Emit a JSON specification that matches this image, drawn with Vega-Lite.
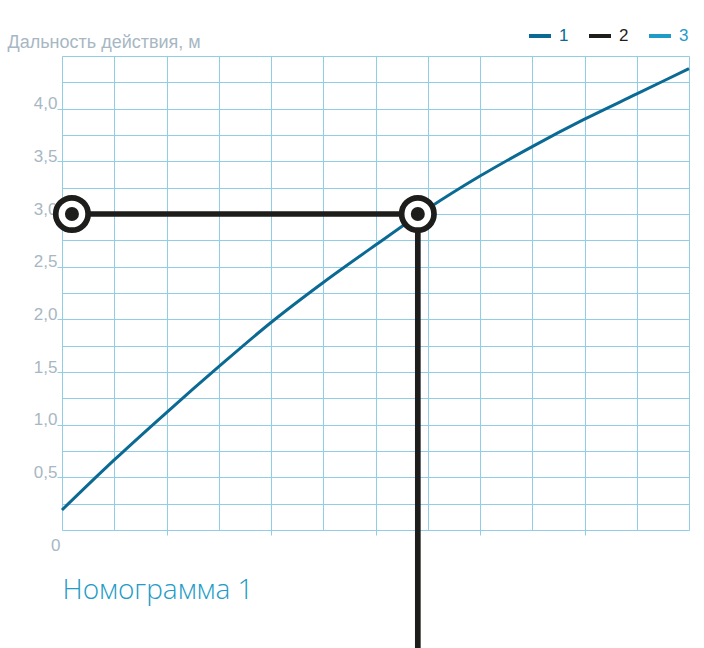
{
  "$schema": "https://vega.github.io/schema/vega-lite/v6.json",
  "autosize": "none",
  "width": 627,
  "height": 474,
  "padding": {"left": 62, "top": 56, "right": 15, "bottom": 118},
  "background": "white",
  "datasets": {
    "curve": [
      {"x": 0, "y": 0.19, "series": "1"},
      {"x": 1, "y": 0.665, "series": "1"},
      {"x": 2, "y": 1.115, "series": "1"},
      {"x": 3, "y": 1.55, "series": "1"},
      {"x": 4, "y": 1.97, "series": "1"},
      {"x": 5, "y": 2.35, "series": "1"},
      {"x": 6, "y": 2.705, "series": "1"},
      {"x": 7, "y": 3.05, "series": "1"},
      {"x": 8, "y": 3.36, "series": "1"},
      {"x": 9, "y": 3.64, "series": "1"},
      {"x": 10, "y": 3.9, "series": "1"},
      {"x": 11, "y": 4.14, "series": "1"},
      {"x": 12, "y": 4.38, "series": "1"}
    ],
    "guide": [
      {"x": 0.19, "y": 3.0, "series": "2", "ord": 1},
      {"x": 6.81, "y": 3.0, "series": "2", "ord": 2},
      {"x": 6.81, "y": -1.4, "series": "2", "ord": 3}
    ],
    "points": [
      {"x": 0.19, "y": 3.0},
      {"x": 6.81, "y": 3.0}
    ]
  },
  "encoding": {
    "x": {
      "field": "x",
      "type": "quantitative",
      "scale": {"domain": [0, 12], "nice": false},
      "axis": {
        "title": "Номограмма 1",
        "titleAnchor": "start",
        "titleAlign": "left",
        "titleBaseline": "alphabetic",
        "titleX": 0,
        "titleY": 68,
        "titleFont": "Open Sans",
        "titleFontSize": 28,
        "titleFontWeight": 300,
        "titleColor": "#229bc6",
        "domain": false,
        "labels": false,
        "values": [0, 1, 2, 3, 4, 5, 6, 7, 8, 9, 10, 11, 12],
        "grid": true,
        "gridColor": "#92cde6",
        "gridOpacity": 1,
        "tickColor": "#92cde6",
        "tickSize": 5,
        "tickOpacity": {"condition": {"test": "datum.value % 2 == 0 && datum.value > 0 && datum.value < 12", "value": 1}, "value": 0}
      }
    },
    "y": {
      "field": "y",
      "type": "quantitative",
      "scale": {"domain": [0, 4.5], "nice": false},
      "axis": {
        "title": "Дальность действия, м",
        "titleAngle": 0,
        "titleAlign": "left",
        "titleBaseline": "alphabetic",
        "titleX": -55,
        "titleY": -9,
        "titleFont": "Liberation Sans",
        "titleFontSize": 18,
        "titleFontWeight": "normal",
        "titleColor": "#a7b7c3",
        "domain": false,
        "values": [0, 0.25, 0.5, 0.75, 1, 1.25, 1.5, 1.75, 2, 2.25, 2.5, 2.75, 3, 3.25, 3.5, 3.75, 4, 4.25, 4.5],
        "grid": true,
        "gridColor": "#92cde6",
        "gridOpacity": 1,
        "tickColor": "#92cde6",
        "tickSize": 5,
        "tickOpacity": {"condition": {"test": "datum.value % 0.5 == 0 && datum.value > 0 && datum.value < 4.5", "value": 1}, "value": 0},
        "labelExpr": "datum.value == 0 ? '0' : (datum.value % 0.5 == 0 && datum.value < 4.5 ? replace(format(datum.value, '.1f'), '.', ',') : '')",
        "labelFont": "Liberation Sans",
        "labelFontSize": 17,
        "labelColor": "#a7b7c3",
        "labelPadding": {"condition": {"test": "datum.value == 0", "value": -3}, "value": 0},
        "labelBaseline": {"condition": {"test": "datum.value == 0", "value": "top"}, "value": "alphabetic"},
        "labelOffset": {"condition": {"test": "datum.value == 0", "value": 7}, "value": 0}
      }
    }
  },
  "layer": [
    {
      "data": {"name": "curve"},
      "mark": {"type": "line", "interpolate": "monotone", "strokeWidth": 3},
      "encoding": {
        "color": {
          "field": "series",
          "type": "nominal",
          "scale": {"domain": ["1", "2", "3"], "range": ["#0b6a93", "#1d1d1b", "#1e9bc7"]},
          "legend": {
            "title": null,
            "orient": "none",
            "direction": "horizontal",
            "legendX": 465,
            "legendY": -33,
            "symbolType": "stroke",
            "symbolSize": 484,
            "symbolStrokeWidth": 4,
            "labelFont": "Liberation Sans",
            "labelFontSize": 17,
            "labelOffset": 6,
            "columnPadding": 12,
            "labelColor": {"expr": "datum.label == '1' ? '#0b6a93' : datum.label == '2' ? '#1d1d1b' : '#1e9bc7'"}
          }
        }
      }
    },
    {
      "data": {"name": "guide"},
      "mark": {"type": "line", "strokeWidth": 5.7},
      "encoding": {
        "color": {"field": "series", "type": "nominal"},
        "order": {"field": "ord"}
      }
    },
    {
      "data": {"name": "points"},
      "mark": {"type": "point", "shape": "circle", "filled": false, "fill": "white", "fillOpacity": 1, "stroke": "#1d1d1b", "strokeWidth": 5.7, "opacity": 1, "size": 1050},
      "encoding": {}
    },
    {
      "data": {"name": "points"},
      "mark": {"type": "point", "shape": "circle", "filled": true, "color": "#1d1d1b", "opacity": 1, "size": 196},
      "encoding": {}
    }
  ]
}
